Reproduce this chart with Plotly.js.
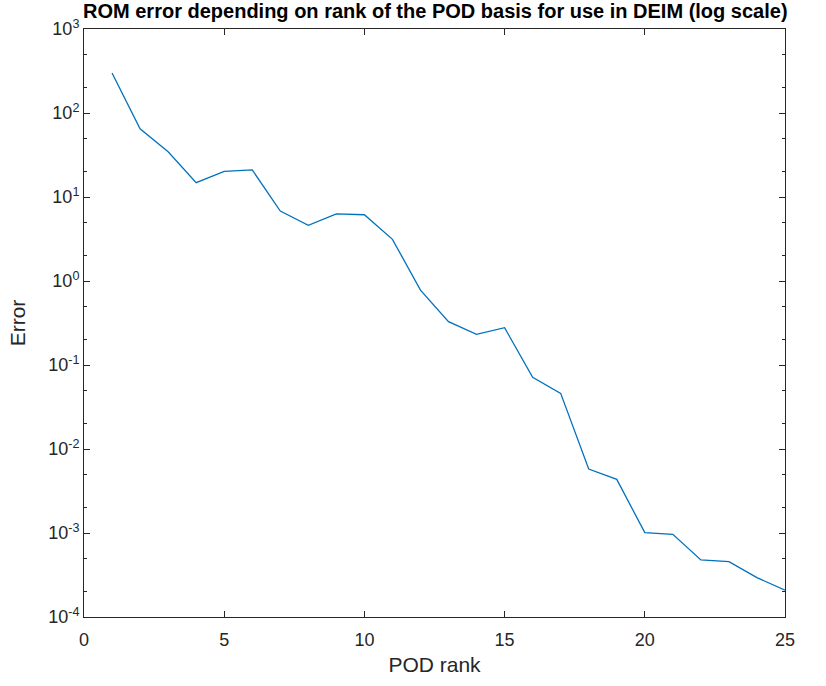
<!DOCTYPE html>
<html>
<head>
<meta charset="utf-8">
<script src="https://cdn.plot.ly/plotly-3.0.1.min.js"></script>
<style>html,body{margin:0;padding:0;background:#fff;}#chart{width:826px;height:686px;}</style>
</head>
<body>
<div id="chart"></div>
<script>
const podRank = [1,2,3,4,5,6,7,8,9,10,11,12,13,14,15,16,17,18,19,20,21,22,23,24,25];
const romError = [300, 65, 34.6, 14.8, 20.2, 21, 6.8, 4.6, 6.3, 6.15, 3.13, 0.78, 0.328, 0.232, 0.278,
                  0.0713, 0.046, 0.00578, 0.00435, 0.00101, 0.000964, 0.000478, 0.000456, 0.000294, 0.000209];
const xTicks = [0,5,10,15,20,25];
const yTickExponents = [-4,-3,-2,-1,0,1,2,3];
const yTickVals = yTickExponents.map(e => Math.pow(10, e));
const yTickText = yTickExponents.map(e => '10<sup>' + e + '</sup>');

const axisColor = '#262626';
const trace = {
  x: podRank, y: romError, type: 'scatter', mode: 'lines',
  line: {color: '#0072BD', width: 1.3}, hoverinfo: 'none'
};
const layout = {
  width: 826, height: 686,
  margin: {l: 84, r: 41, t: 29, b: 69},
  paper_bgcolor: '#fff', plot_bgcolor: '#fff',
  showlegend: false,
  font: {family: 'Liberation Sans, Arial, sans-serif', color: axisColor},
  title: {
    text: '<b>ROM error depending on rank of the POD basis for use in DEIM (log scale)</b>',
    font: {size: 20, color: '#000'},
    x: 0.527, xanchor: 'center', y: 0.984, yanchor: 'middle'
  },
  xaxis: {
    range: [0, 25], tickvals: xTicks, ticktext: xTicks.map(String),
    ticks: 'inside', ticklen: 6, tickcolor: axisColor, ticklabelstandoff: 6,
    showline: true, linecolor: axisColor, linewidth: 1, mirror: 'ticks',
    showgrid: false, zeroline: false,
    tickfont: {size: 18, color: axisColor},
    title: {text: 'POD rank', font: {size: 21, color: axisColor}, standoff: 8}
  },
  yaxis: {
    type: 'log', range: [-4, 3], tickvals: yTickVals, ticktext: yTickText,
    ticks: 'inside', ticklen: 6, tickcolor: axisColor,
    minor: {ticks: 'inside', ticklen: 3, tickcolor: axisColor, showgrid: false},
    showline: true, linecolor: axisColor, linewidth: 1, mirror: 'allticks',
    showgrid: false, zeroline: false,
    tickfont: {size: 18, color: axisColor},
    title: {text: 'Error', font: {size: 21, color: axisColor}, standoff: 16}
  }
};
Plotly.newPlot('chart', [trace], layout, {staticPlot: true, displayModeBar: false});
</script>
</body>
</html>
